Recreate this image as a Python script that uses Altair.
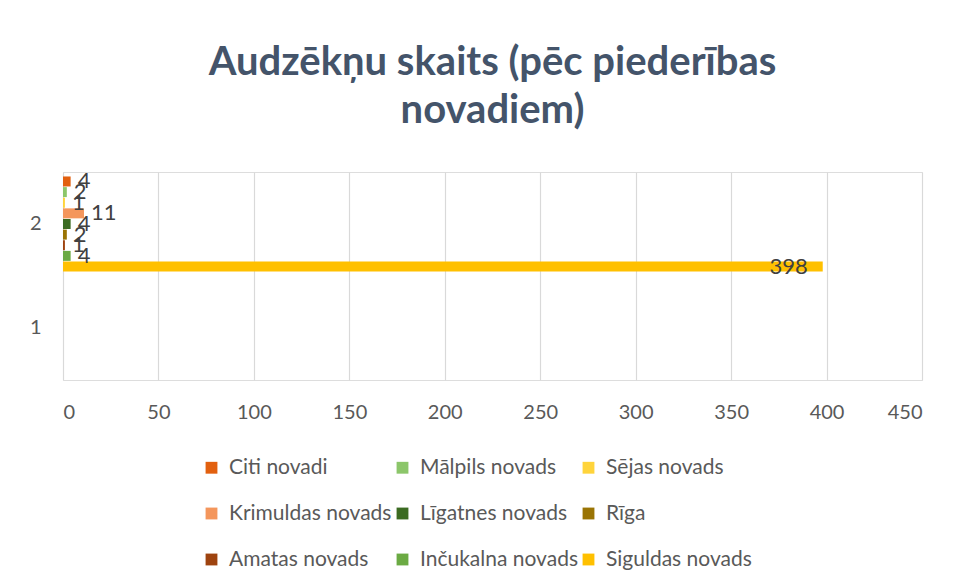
import altair as alt
import pandas as pd

series = ["Citi novadi", "Mālpils novads", "Sējas novads",
          "Krimuldas novads", "Līgatnes novads", "Rīga",
          "Amatas novads", "Inčukalna novads", "Siguldas novads"]
values = [4, 2, 1, 11, 4, 2, 1, 4, 398]
category = ["2"] * len(series)
categories = ["2", "1"]
colors = ["#E2600F", "#8CC66A", "#FFD43B",
          "#F4965C", "#3B6B22", "#9A7404",
          "#9E430F", "#6BAA43", "#FFC000"]
x_ticks = [0, 50, 100, 150, 200, 250, 300, 350, 400, 450]

df = pd.DataFrame({"kategorija": category, "sērija": series, "vērtība": values})

FONT = "Lato"
TXT = "#595959"

base = alt.Chart(df).encode(
    y=alt.Y("kategorija:N",
            scale=alt.Scale(domain=categories, paddingInner=0.0865, paddingOuter=0.043),
            axis=alt.Axis(title=None, ticks=False, domain=False, labelPadding=22,
                          labelFontSize=20, labelColor=TXT, labelFont=FONT, grid=False)),
    yOffset=alt.YOffset("sērija:N", scale=alt.Scale(domain=series, paddingInner=0.06)),
    x=alt.X("vērtība:Q",
            scale=alt.Scale(domain=[0, 450], nice=False),
            axis=alt.Axis(title=None, values=x_ticks, ticks=False, domain=False,
                          labelPadding=22, labelFontSize=20, labelColor=TXT, labelFont=FONT,
                          grid=True, gridColor="#D9D9D9", gridWidth=1.2)),
)

bars = base.mark_bar().encode(
    color=alt.Color("sērija:N",
                    scale=alt.Scale(domain=series, range=colors),
                    legend=alt.Legend(title=None, orient="none", columns=3,
                                      direction="horizontal",
                                      legendX=138, legendY=285,
                                      symbolType="square", symbolSize=140,
                                      symbolStrokeWidth=0,
                                      labelFontSize=21, labelColor=TXT, labelFont=FONT,
                                      rowPadding=24, columnPadding=0, labelOffset=7,
                                      labelLimit=300))
)

labels_out = base.mark_text(align="left", baseline="middle", dx=7,
                            fontSize=22, color="#404040", font=FONT).encode(
    text="vērtība:Q").transform_filter("datum['vērtība'] < 300")

labels_in = base.mark_text(align="right", baseline="middle", dx=-15,
                           fontSize=22, color="#404040", font=FONT).encode(
    text="vērtība:Q").transform_filter("datum['vērtība'] >= 300")

chart = alt.layer(bars, labels_out, labels_in).properties(
    width=859, height=208,
    padding={"left": 21, "top": 35, "right": 10, "bottom": 10},
    title=alt.TitleParams(["Audzēkņu skaits (pēc piederības", "novadiem)"],
                          fontSize=40, font=FONT, fontWeight="bold",
                          color="#44546A", lineHeight=48, offset=39, anchor="middle"),
).configure_view(stroke=None).configure(background="white")

chart.save("out.html", embed_options={"renderer": "svg", "actions": False})
